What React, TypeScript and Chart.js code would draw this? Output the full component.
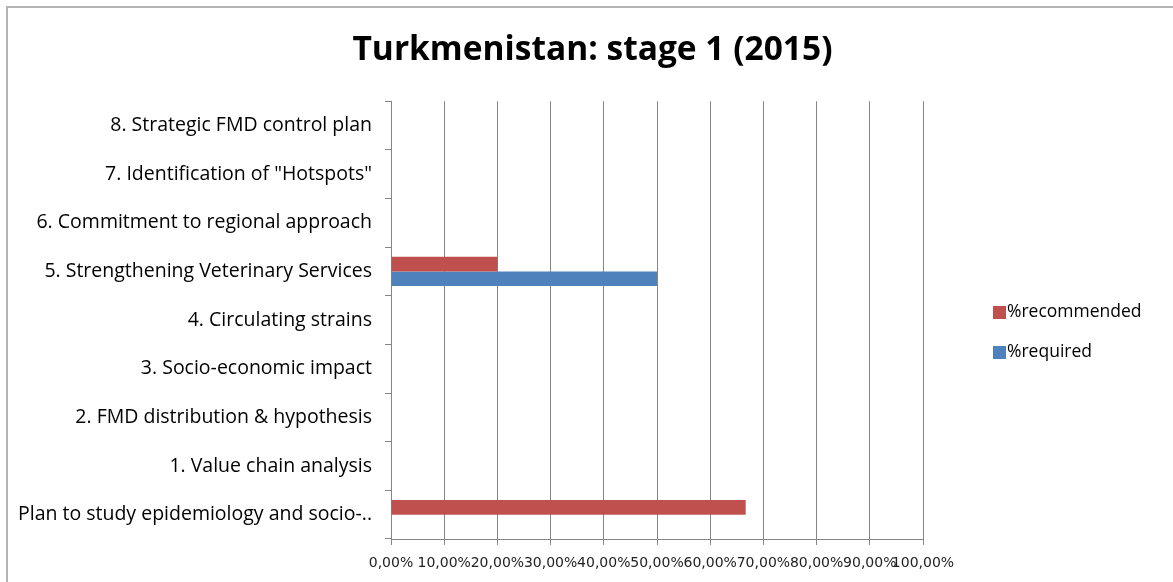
import React, { useEffect, useRef } from 'react';
import { Chart, registerables, layouts } from 'chart.js';

Chart.register(...registerables);

const chartTitle = 'Turkmenistan: stage 1 (2015)';
const categories = [
  '8. Strategic FMD control plan',
  '7. Identification of "Hotspots"',
  '6. Commitment to regional approach',
  '5. Strengthening Veterinary Services',
  '4. Circulating strains',
  '3. Socio-economic impact',
  '2. FMD distribution & hypothesis',
  '1. Value chain analysis',
  'Plan to study epidemiology and socio-..',
];
const recommended = [0, 0, 0, 20, 0, 0, 0, 0, 66.67];
const required = [0, 0, 0, 50, 0, 0, 0, 0, 0];
const seriesNames = ['%recommended', '%required'];
const seriesColors = ['#C0504D', '#4F81BD'];

const W = 1173;
const H = 582;

const framePlugin = {
  id: 'frame',
  beforeDraw(chart: any) {
    const ctx = chart.ctx;
    ctx.save();
    ctx.fillStyle = '#ffffff';
    ctx.fillRect(0, 0, chart.width, chart.height);
    ctx.strokeStyle = '#b4b4b4';
    ctx.lineWidth = 2;
    ctx.beginPath();
    ctx.moveTo(7, chart.height + 2);
    ctx.lineTo(7, 7);
    ctx.lineTo(chart.width + 2, 7);
    ctx.stroke();
    ctx.restore();
  },
};

const spacePlugin = {
  id: 'rightSpace',
  beforeInit(chart: any) {
    const box: any = {
      position: 'right',
      weight: 100,
      fullSize: false,
      options: {},
      width: 0,
      height: 0,
      top: 0,
      left: 0,
      right: 0,
      bottom: 0,
      isHorizontal() {
        return false;
      },
      update(maxWidth: number, maxHeight: number) {
        this.width = 250;
        this.height = maxHeight;
      },
      draw() {},
    };
    layouts.addBox(chart, box);
  },
};

const legendPlugin = {
  id: 'sideLegend',
  afterDraw(chart: any) {
    const ctx = chart.ctx;
    ctx.save();
    ctx.font = '17.5px "Open Sans"';
    ctx.textBaseline = 'middle';
    ctx.textAlign = 'left';
    chart.data.datasets.forEach((ds: any, i: number) => {
      const cy = 312 + i * 40;
      ctx.fillStyle = ds.backgroundColor;
      ctx.fillRect(993, cy - 6, 13, 13);
      ctx.fillStyle = '#000';
      ctx.fillText(ds.label, 1007, cy);
    });
    ctx.restore();
  },
};

export default function App() {
  const ref = useRef<HTMLCanvasElement | null>(null);
  useEffect(() => {
    if (!ref.current) return;
    const chart = new Chart(ref.current, {
      type: 'bar',
      data: {
        labels: categories,
        datasets: [
          {
            label: seriesNames[0],
            data: recommended,
            backgroundColor: seriesColors[0],
            borderWidth: 0,
            categoryPercentage: 0.6,
            barPercentage: 1.0,
          },
          {
            label: seriesNames[1],
            data: required,
            backgroundColor: seriesColors[1],
            borderWidth: 0,
            categoryPercentage: 0.6,
            barPercentage: 1.0,
          },
        ],
      },
      options: {
        indexAxis: 'y',
        responsive: false,
        animation: false,
        devicePixelRatio: 1,
        layout: { padding: { left: 12, right: 0, top: 0, bottom: 0 } },
        plugins: {
          legend: { display: false },
          tooltip: { enabled: false },
          title: {
            display: true,
            text: chartTitle,
            color: '#000',
            font: { family: '"Open Sans"', size: 33.5, weight: 'bold' },
            padding: { top: 30, bottom: 31 },
          },
        },
        scales: {
          x: {
            min: 0,
            max: 100,
            ticks: {
              stepSize: 10,
              autoSkip: false,
              maxRotation: 0,
              minRotation: 0,
              padding: 10,
              color: '#222',
              font: { family: '"DejaVu Sans"', size: 14 },
              callback: (v: any) => Number(v).toFixed(2).replace('.', ',') + '%',
            },
            grid: { color: '#868686', lineWidth: 1, drawTicks: true, tickLength: 6 },
            border: { display: true, color: '#868686', width: 1 },
            afterFit: (s: any) => {
              s.height = 43;
            },
          },
          y: {
            ticks: {
              autoSkip: false,
              padding: 13,
              color: '#000',
              font: { family: '"Open Sans"', size: 19.5 },
            },
            grid: {
              display: true,
              drawOnChartArea: false,
              drawTicks: true,
              tickLength: 6,
              color: '#868686',
              offset: true,
            },
            border: { display: true, color: '#868686', width: 1 },
            afterFit: (s: any) => {
              s.width = 379;
            },
          },
        },
      },
      plugins: [framePlugin, spacePlugin, legendPlugin],
    } as any);
    return () => chart.destroy();
  }, []);
  return (
    <div style={{ position: 'absolute', left: 0, top: 0, width: W, height: H }}>
      <canvas ref={ref} width={W} height={H} style={{ display: 'block' }} />
    </div>
  );
}
